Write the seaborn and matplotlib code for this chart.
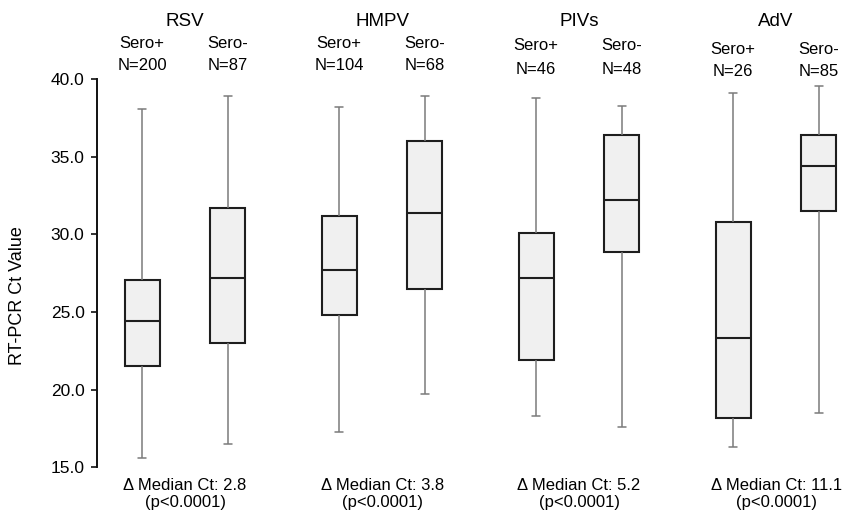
import numpy as np
import pandas as pd
import matplotlib
matplotlib.use("Agg")
import matplotlib.pyplot as plt
import matplotlib.transforms as mtrans
from matplotlib.ticker import FormatStrFormatter
import seaborn as sns

viruses = ["RSV", "HMPV", "PIVs", "AdV"]
sero = ["Sero+", "Sero-"]
n_pos = [200, 104, 46, 26]
n_neg = [87, 68, 48, 85]
delta_median = ["2.8", "3.8", "5.2", "11.1"]
p_text = ["(p<0.0001)", "(p<0.0001)", "(p<0.0001)", "(p<0.0001)"]

# five-number summaries (min, Q1, median, Q3, max)
pos_min = [15.6, 17.3, 18.3, 16.3]
pos_q1 = [21.5, 24.8, 21.9, 18.2]
pos_med = [24.4, 27.7, 27.2, 23.3]
pos_q3 = [27.1, 31.2, 30.1, 30.8]
pos_max = [38.1, 38.2, 38.8, 39.1]

neg_min = [16.5, 19.7, 17.6, 18.5]
neg_q1 = [23.0, 26.5, 28.9, 31.5]
neg_med = [27.2, 31.4, 32.2, 34.4]
neg_q3 = [31.7, 36.0, 36.4, 36.4]
neg_max = [38.9, 38.9, 38.3, 39.6]

rows = []
for i, v in enumerate(viruses):
    for val in [pos_min[i], pos_q1[i], pos_med[i], pos_q3[i], pos_max[i]]:
        rows.append({"virus": v, "sero": "Sero+", "ct": val})
    for val in [neg_min[i], neg_q1[i], neg_med[i], neg_q3[i], neg_max[i]]:
        rows.append({"virus": v, "sero": "Sero-", "ct": val})
df = pd.DataFrame(rows)

sns.set_style("ticks")
plt.rcParams["font.family"] = ["Liberation Sans", "DejaVu Sans"]
plt.rcParams["text.color"] = "black"
plt.rcParams["axes.labelcolor"] = "black"
plt.rcParams["ytick.color"] = "black"

W, H = 847, 514
fig = plt.figure(figsize=(W / 100, H / 100), dpi=100)
ax = fig.add_axes([97 / W, 46.7 / H, 750 / W, 388 / H])

box_face = "#f0f0f0"
edge = "#1e1e1e"
whisk = "#7a7a7a"

sns.boxplot(data=df, x="virus", y="ct", hue="sero", order=viruses, hue_order=sero,
            palette={"Sero+": box_face, "Sero-": box_face}, saturation=1,
            whis=(0, 100), width=0.87, gap=0.59, linecolor=edge, linewidth=1.5,
            whiskerprops={"color": whisk, "linewidth": 1.1},
            capprops={"color": whisk, "linewidth": 1.1},
            legend=False, ax=ax)

# shorter caps like the original
for line in ax.lines:
    xd = np.asarray(line.get_xdata(), dtype=float)
    yd = np.asarray(line.get_ydata(), dtype=float)
    if len(xd) == 2 and yd[0] == yd[1] and abs(xd[1] - xd[0]) < 0.13:
        c = xd.mean()
        line.set_xdata([c - 0.021, c + 0.021])

ax.set_ylim(15, 40)
ax.set_xlim(-0.447, 3.36)
ax.set_yticks([15, 20, 25, 30, 35, 40])
ax.yaxis.set_major_formatter(FormatStrFormatter("%.1f"))
ax.tick_params(axis="y", labelsize=12.5, length=4, width=1.2, pad=5, color="#111111")
ax.set_xticks([])
ax.set_xlabel("")
sns.despine(ax=ax, bottom=True)
ax.spines["left"].set_linewidth(1.4)
ax.spines["left"].set_color("#111111")

ax.set_ylabel("RT-PCR Ct Value", fontsize=13, va="center")
ax.yaxis.set_label_coords((18 - 97) / 750, (467.3 - 296) / 388)

# labels above and below each group (y given in figure pixels from top)
tr = mtrans.blended_transform_factory(ax.transData, fig.transFigure)
sero_y = [43, 43, 45, 49]
n_y = [66, 66, 70, 72]
off = 0.87 / 4
for i, v in enumerate(viruses):
    ax.text(i, 1 - 21 / H, v, transform=tr, ha="center", va="center", fontsize=13.5)
    ax.text(i - off, 1 - sero_y[i] / H, "Sero+", transform=tr, ha="center", va="center", fontsize=12)
    ax.text(i + off, 1 - sero_y[i] / H, "Sero-", transform=tr, ha="center", va="center", fontsize=12)
    ax.text(i - off, 1 - n_y[i] / H, f"N={n_pos[i]}", transform=tr, ha="center", va="center", fontsize=12)
    ax.text(i + off, 1 - n_y[i] / H, f"N={n_neg[i]}", transform=tr, ha="center", va="center", fontsize=12)
    ax.text(i, 1 - 485 / H, f"\u0394 Median Ct: {delta_median[i]}", transform=tr,
            ha="center", va="center", fontsize=12)
    ax.text(i, 1 - 502 / H, p_text[i], transform=tr, ha="center", va="center", fontsize=12)

fig.savefig("out.png", dpi=100)
